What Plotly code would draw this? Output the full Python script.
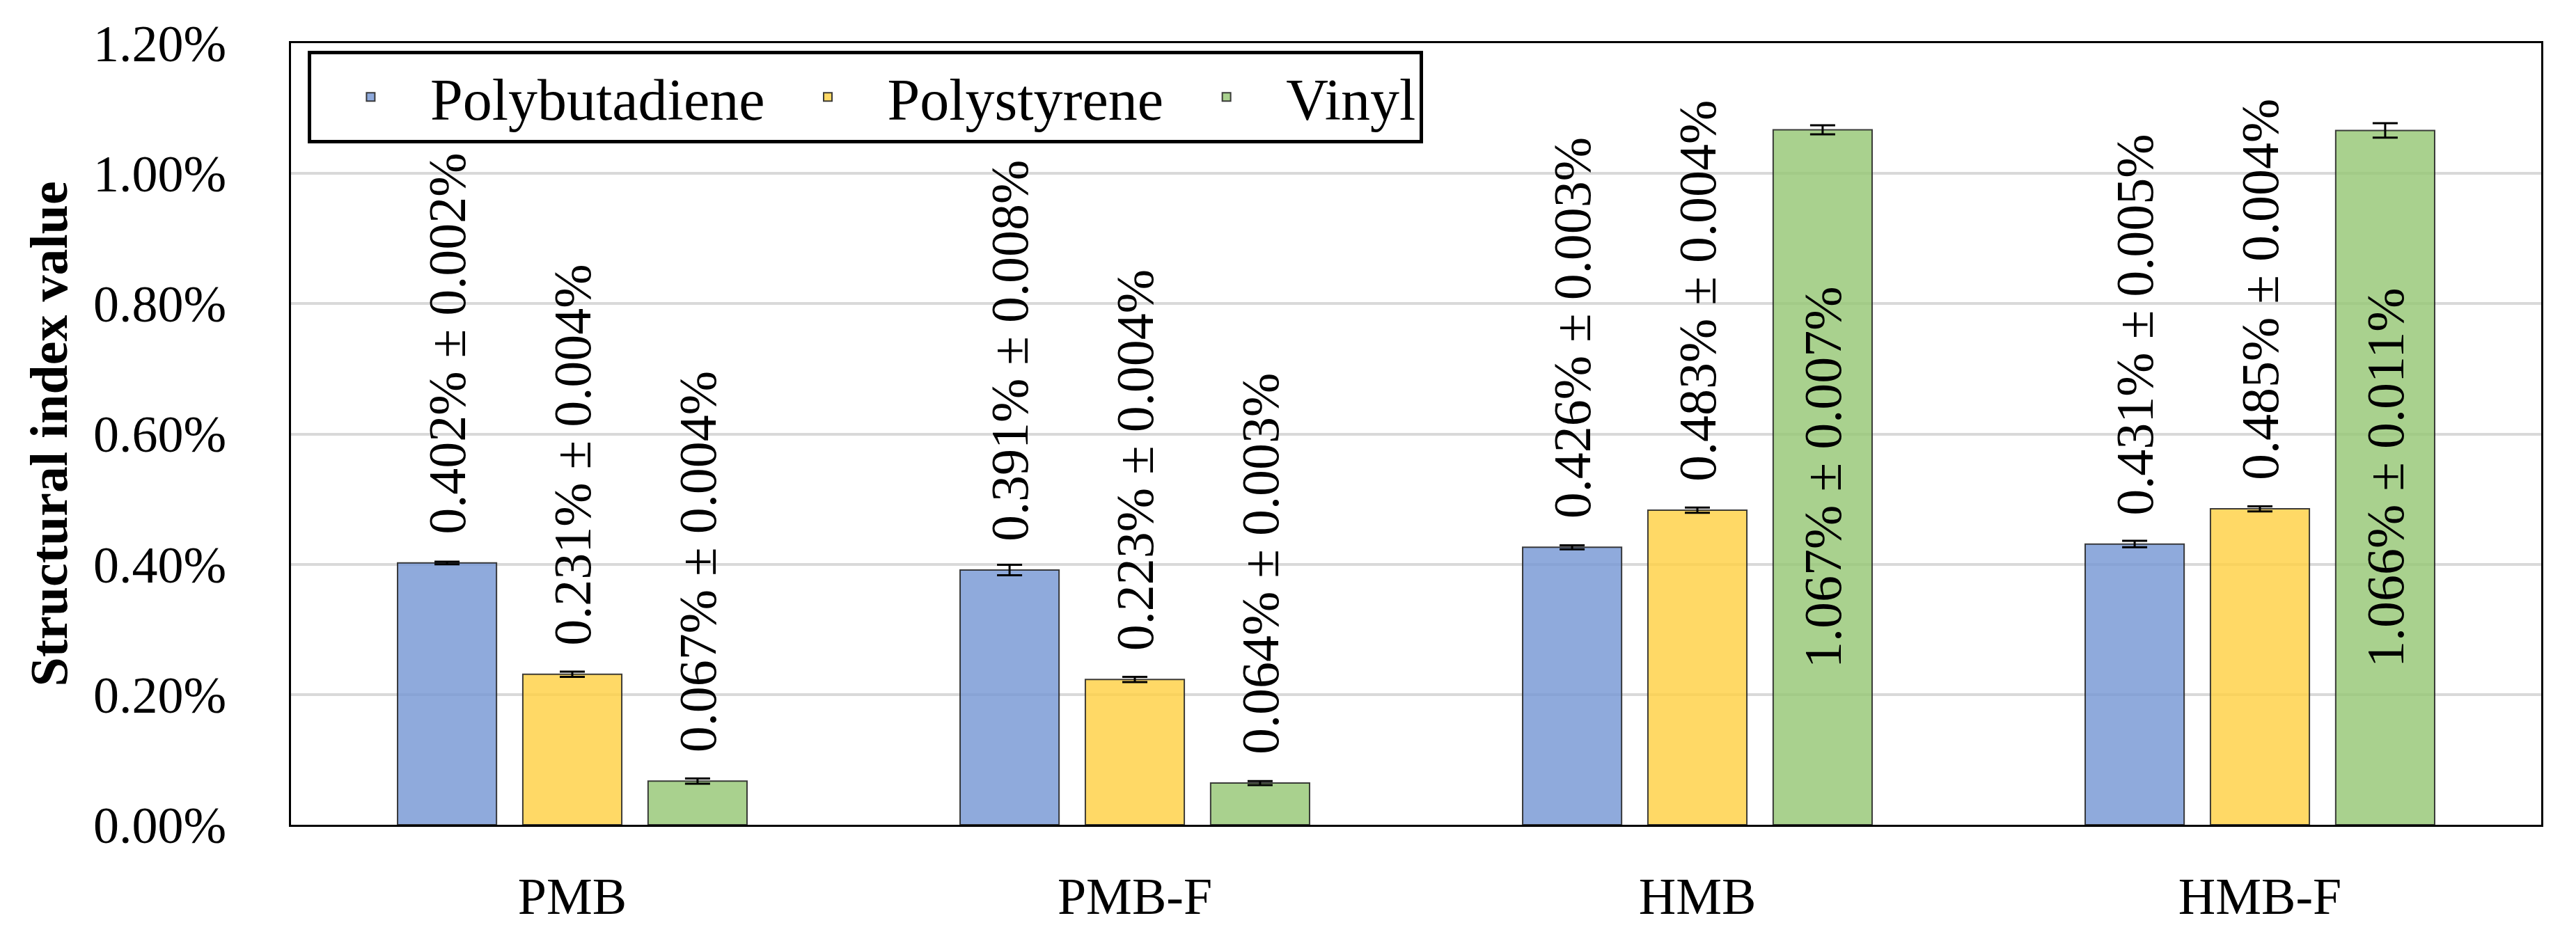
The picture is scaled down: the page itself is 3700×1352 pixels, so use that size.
import plotly.graph_objects as go

# ---------------- data ----------------
categories = ["PMB", "PMB-F", "HMB", "HMB-F"]
series_names = ["Polybutadiene", "Polystyrene", "Vinyl"]

polybutadiene = [0.402, 0.391, 0.426, 0.431]
polybutadiene_err = [0.002, 0.008, 0.003, 0.005]
polystyrene = [0.231, 0.223, 0.483, 0.485]
polystyrene_err = [0.004, 0.004, 0.004, 0.004]
vinyl = [0.067, 0.064, 1.067, 1.066]
vinyl_err = [0.004, 0.003, 0.007, 0.011]

y_tick_values = [0.0, 0.2, 0.4, 0.6, 0.8, 1.0, 1.2]
y_tick_labels = ["0.00%", "0.20%", "0.40%", "0.60%", "0.80%", "1.00%", "1.20%"]

# ---------------- styling ----------------
FONT = "Liberation Serif"
fills = ["rgba(115,149,211,0.8)", "rgba(255,207,64,0.8)", "rgba(148,198,114,0.8)"]
label_positions = [
    ["outside"] * 4,
    ["outside"] * 4,
    ["outside", "outside", "inside", "inside"],
]
PAD = "\u00a0\u00a0"

values = [polybutadiene, polystyrene, vinyl]
errors = [polybutadiene_err, polystyrene_err, vinyl_err]

fig = go.Figure()
for name, vals, errs, fill, poss in zip(series_names, values, errors, fills, label_positions):
    texts = []
    for v, e, p in zip(vals, errs, poss):
        t = f"{v:.3f}% ± {e:.3f}%"
        texts.append(PAD + t if p == "outside" else t)
    fig.add_trace(go.Bar(
        name=name,
        x=categories,
        y=vals,
        marker=dict(color=fill, line=dict(color="rgba(40,40,40,0.9)", width=2)),
        error_y=dict(type="data", array=errs, visible=True, color="black",
                     thickness=3, width=18),
        text=texts,
        textposition=poss,
        textangle=-90,
        insidetextanchor="middle",
        constraintext="none",
        textfont=dict(family=FONT, size=76, color="black"),
        cliponaxis=False,
    ))

fig.update_layout(
    width=3700,
    height=1352,
    margin=dict(l=418, r=50, t=62, b=167, autoexpand=False),
    barmode="group",
    bargap=0.332,
    bargroupgap=0.21,
    plot_bgcolor="white",
    paper_bgcolor="white",
    font=dict(family=FONT, size=74, color="black"),
    showlegend=True,
    legend=dict(
        orientation="h",
        x=0.0074, y=0.99, xanchor="left", yanchor="top",
        bgcolor="white", bordercolor="black", borderwidth=5,
        font=dict(family=FONT, size=84, color="black"),
        itemwidth=161,
        traceorder="normal",
    ),
)

fig.update_yaxes(
    range=[0, 1.2],
    tickvals=y_tick_values,
    ticktext=y_tick_labels,
    showgrid=True, gridcolor="#d9d9d9", gridwidth=4,
    zeroline=False,
    showline=True, linecolor="black", linewidth=3, mirror=True,
    ticks="",
    ticklabelstandoff=75,
    automargin=True,
    tickfont=dict(family=FONT, size=74),
    title=dict(text="<b>Structural index value</b>", font=dict(family=FONT, size=76), standoff=13),
)
fig.update_xaxes(
    showline=True, linecolor="black", linewidth=3, mirror=True,
    ticks="",
    showgrid=False,
    automargin=False,
    ticklabelstandoff=36,
    tickfont=dict(family=FONT, size=74),
)

fig.write_html("out.html")
